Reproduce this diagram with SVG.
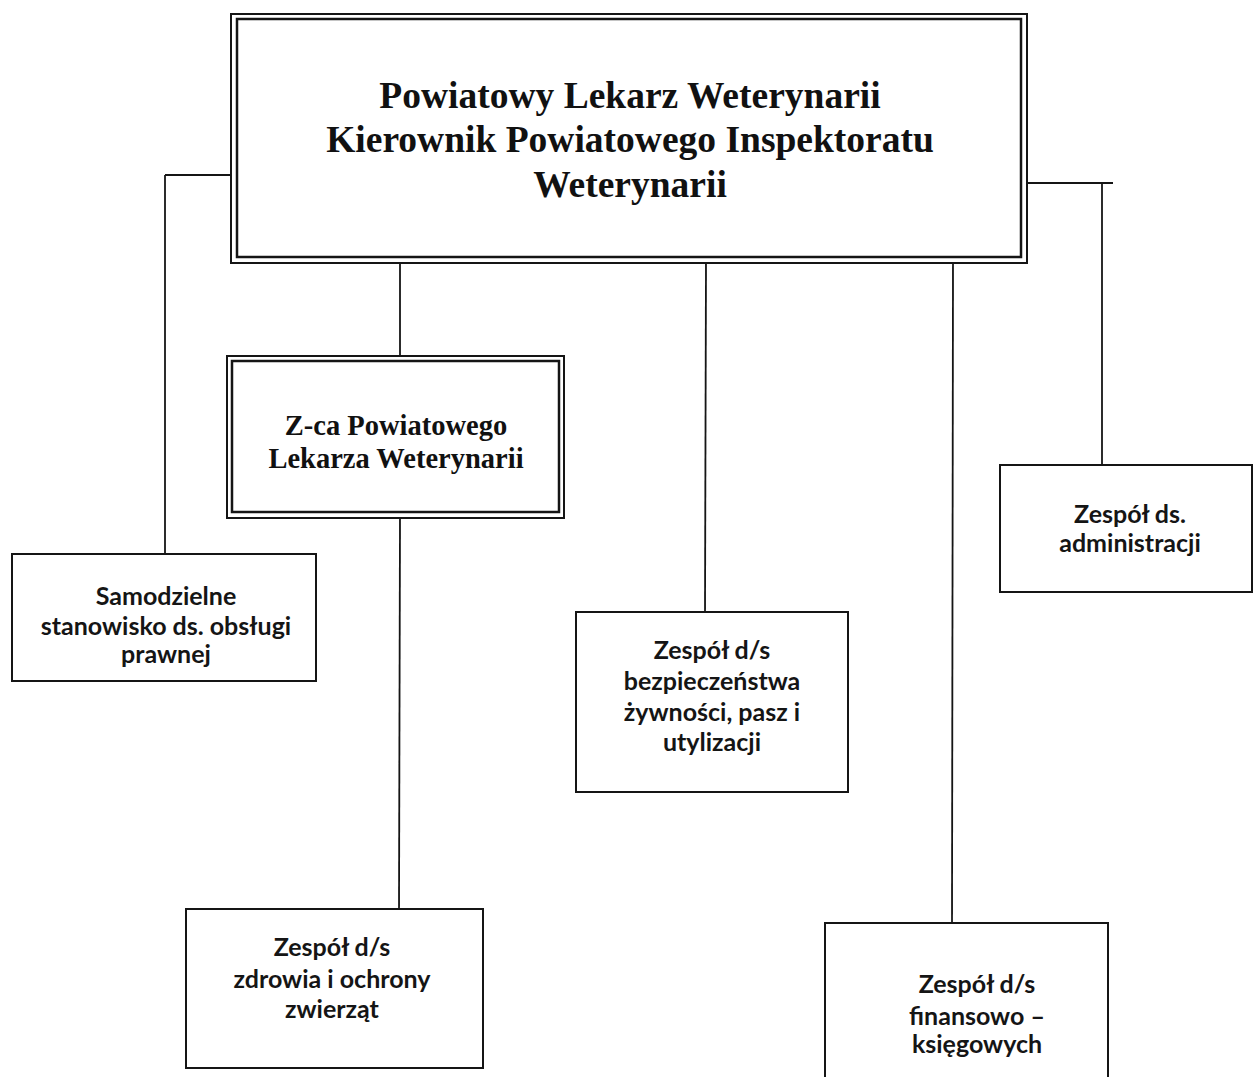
<svg xmlns="http://www.w3.org/2000/svg" width="1254" height="1077" viewBox="0 0 1254 1077">
<style>
.box{fill:#fff;stroke:#151515;stroke-width:2}
.dbl{fill:none;stroke:#151515;stroke-width:2.5}
.con line{stroke:#151515;stroke-width:1.8}
.serif{font-family:"Liberation Serif","Times New Roman",serif;font-weight:bold;fill:#111;text-anchor:middle}
.sans{font-family:Lato,"Open Sans",sans-serif;font-weight:bold;fill:#151515;text-anchor:middle;font-size:25px}
</style>
<rect width="1254" height="1077" fill="#fff"/>
<g class="con">
<line x1="231" y1="175" x2="165" y2="175"/>
<line x1="165" y1="175" x2="165" y2="554"/>
<line x1="1027" y1="183" x2="1113" y2="183"/>
<line x1="1102" y1="183" x2="1102" y2="465"/>
<line x1="400" y1="262" x2="400" y2="356"/>
<line x1="400" y1="518" x2="399" y2="909"/>
<line x1="706" y1="262" x2="705" y2="612"/>
<line x1="953" y1="264" x2="952" y2="923"/>
</g>
<g id="n-plw">
<rect class="box" x="231" y="14" width="796" height="249" stroke-width="2.5"/>
<rect class="dbl" x="237" y="19" width="784" height="238" stroke-width="2"/>
<text class="serif" font-size="37.5"><tspan x="630" y="108">Powiatowy Lekarz Weterynarii</tspan><tspan x="630" y="152">Kierownik Powiatowego Inspektoratu</tspan><tspan x="630" y="197">Weterynarii</tspan></text>
</g>
<g id="n-zca">
<rect class="box" x="227" y="356" width="337" height="162" stroke-width="2.5"/>
<rect class="dbl" x="232" y="361" width="327" height="151" stroke-width="2"/>
<text class="serif" font-size="28.5"><tspan x="396" y="435">Z-ca Powiatowego</tspan><tspan x="396" y="468">Lekarza Weterynarii</tspan></text>
</g>
<g id="n-prawna">
<rect class="box" x="12" y="554" width="304" height="127"/>
<text class="sans"><tspan x="166" y="605">Samodzielne</tspan><tspan x="166" y="635">stanowisko ds. obsługi</tspan><tspan x="166" y="663">prawnej</tspan></text>
</g>
<g id="n-admin">
<rect class="box" x="1000" y="465" width="252" height="127"/>
<text class="sans"><tspan x="1130" y="523">Zespół ds.</tspan><tspan x="1130" y="552">administracji</tspan></text>
</g>
<g id="n-bezp">
<rect class="box" x="576" y="612" width="272" height="180"/>
<text class="sans"><tspan x="712" y="659">Zespół d/s</tspan><tspan x="712" y="690">bezpieczeństwa</tspan><tspan x="712" y="721">żywności, pasz i</tspan><tspan x="712" y="751">utylizacji</tspan></text>
</g>
<g id="n-zdrowie">
<rect class="box" x="186" y="909" width="297" height="159"/>
<text class="sans"><tspan x="332" y="956">Zespół d/s</tspan><tspan x="332" y="988">zdrowia i ochrony</tspan><tspan x="332" y="1018">zwierząt</tspan></text>
</g>
<g id="n-fin">
<rect class="box" x="825" y="923" width="283" height="170"/>
<text class="sans"><tspan x="977" y="993">Zespół d/s</tspan><tspan x="977" y="1025">finansowo –</tspan><tspan x="977" y="1053">księgowych</tspan></text>
</g>
</svg>
